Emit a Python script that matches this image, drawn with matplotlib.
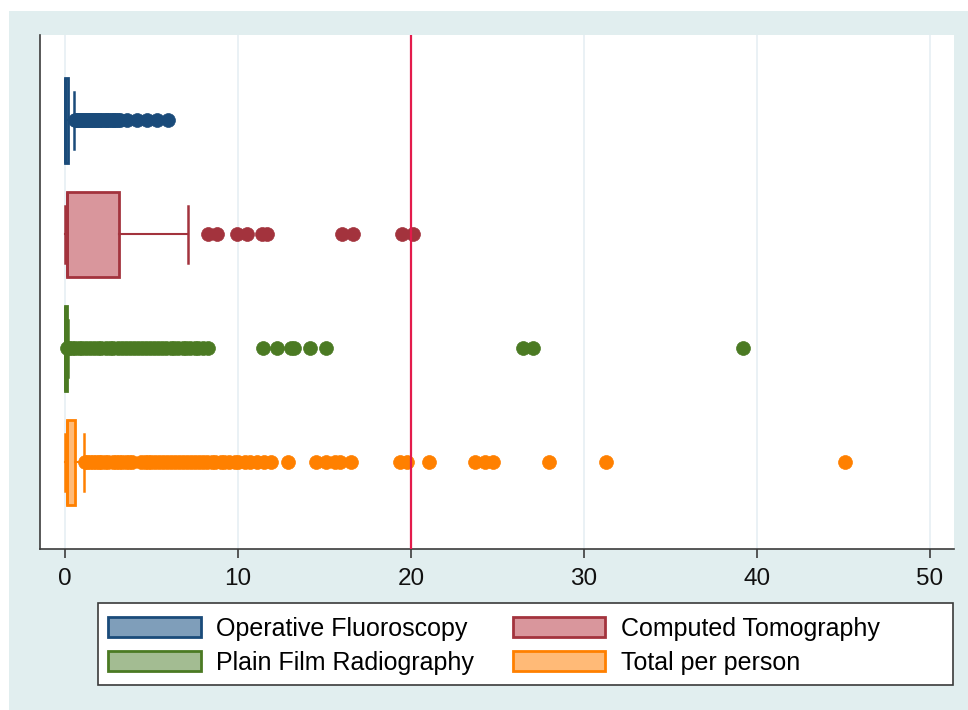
import matplotlib.pyplot as plt
from matplotlib.patches import Patch, Rectangle

plt.rcParams['font.family'] = ['Liberation Sans', 'DejaVu Sans']

# groups, top to bottom
groups = ['Operative Fluoroscopy', 'Computed Tomography',
          'Plain Film Radiography', 'Total per person']

# box summaries
q1 = [0.0, 0.1, 0.0, 0.1]
med = [0.0, 0.1, 0.0, 0.1]
q3 = [0.18, 3.1, 0.1, 0.55]
whis_lo = [0.0, 0.0, 0.0, 0.0]
whis_hi = [0.5, 7.1, 0.15, 1.1]

# outside values (dense runs estimated along the blob)
fliers_fluoro = [0.55, 0.62, 0.7, 0.78, 0.85, 0.93, 1.0, 1.08, 1.15, 1.25,
                 1.33, 1.42, 1.5, 1.6, 1.7, 1.78, 1.87, 1.95, 2.05, 2.15,
                 2.25, 2.35, 2.45, 2.55, 2.65, 2.75, 2.85, 2.95, 3.05, 3.18,
                 3.57, 4.14, 4.72, 5.3, 5.97]
fliers_ct = [8.27, 8.77, 9.92, 10.5, 11.37, 11.66, 16.0, 16.67, 19.46, 20.1]
fliers_plain = [0.1, 0.25, 0.4, 0.6, 0.8, 1.0, 1.2, 1.45, 1.65, 1.9, 2.1,
                2.35, 2.6, 2.8, 3.05, 3.3, 3.5, 3.75, 4.0, 4.2, 4.45, 4.7,
                4.9, 5.15, 5.4, 5.6, 5.85, 6.1, 6.3, 6.55, 6.8, 7.0, 7.25,
                7.5, 7.7, 7.95, 8.27, 11.46, 12.27, 13.05, 13.25, 14.16,
                15.1, 26.45, 27.05, 39.2]
fliers_total = [1.15, 1.3, 1.45, 1.6, 1.8, 1.95, 2.1, 2.3, 2.5, 2.75, 2.95,
                3.1, 3.3, 3.5, 3.7, 3.9, 4.4, 4.6, 4.8, 5.0, 5.2, 5.45, 5.65,
                5.9, 6.1, 6.35, 6.6, 6.8, 7.05, 7.3, 7.5, 7.75, 8.0, 8.2,
                8.5, 8.7, 9.0, 9.2, 9.5, 9.8, 10.0, 10.4, 10.7, 11.1, 11.5,
                11.9, 12.9, 14.5, 15.1, 15.6, 15.9, 16.55, 19.36, 19.75,
                21.04, 23.7, 24.3, 24.75, 28.0, 31.3, 45.1]
fliers = [fliers_fluoro, fliers_ct, fliers_plain, fliers_total]

ref_value = 20
xticks = [0, 10, 20, 30, 40, 50]

line_colors = ['#1A4B7A', '#A3333D', '#4B7A23', '#FF8000']
fill_colors = ['#7F9EBA', '#D9969C', '#A3BC92', '#FFBA77']

fig = plt.figure(figsize=(9.68, 7.10), dpi=100)
fig.patch.set_facecolor('white')
fig.patches.append(Rectangle((9 / 968, 0), 1 - 9 / 968, 699 / 710,
                             transform=fig.transFigure, facecolor='#E1EEEF',
                             edgecolor='none', zorder=-2))

ax = fig.add_axes([40 / 968, 161 / 710, 914 / 968, 514 / 710])
ax.set_facecolor('white')
ax.set_zorder(2)

for i in range(len(groups)):
    st = dict(med=med[i], q1=q1[i], q3=q3[i], whislo=whis_lo[i],
              whishi=whis_hi[i], fliers=fliers[i])
    c = line_colors[i]
    ax.bxp([st], positions=[i + 1], widths=0.745, capwidths=0.5,
           orientation='horizontal', patch_artist=True, manage_ticks=False,
           boxprops=dict(facecolor=fill_colors[i], edgecolor=c, linewidth=2),
           medianprops=dict(color=c, linewidth=2),
           whiskerprops=dict(color=c, linewidth=1.5),
           capprops=dict(color=c, linewidth=1.8),
           flierprops=dict(marker='o', markerfacecolor=c, markeredgecolor=c,
                           markersize=10, markeredgewidth=0.5))

ax.axvline(ref_value, color='#E31B4B', linewidth=1.6, zorder=5)

ax.set_xlim(-1.445, 51.39)
ax.set_ylim(4.76, 0.25)
ax.set_yticks([])
ax.set_xticks(xticks)
ax.grid(axis='x', color='#E6EFF3', linewidth=1.2)
ax.set_axisbelow(True)
for s in ['top', 'right']:
    ax.spines[s].set_visible(False)
for s in ['left', 'bottom']:
    ax.spines[s].set_color('#3C3C3C')
    ax.spines[s].set_linewidth(1.2)
ax.tick_params(axis='x', length=6.5, width=1.2, color='#3C3C3C',
               labelsize=17.5, pad=7, labelcolor='#111111')

# legend frame and entries
fig.patches.append(Rectangle((98 / 968, 25 / 710), 855 / 968, 82 / 710,
                             transform=fig.transFigure, facecolor='white',
                             edgecolor='#3A3A3A', linewidth=1.2, zorder=-1))
handles = [Patch(facecolor=fill_colors[i], edgecolor=line_colors[i],
                 linewidth=2, label=groups[i]) for i in [0, 2, 1, 3]]
leg = fig.legend(handles=handles, ncol=2, loc='upper left',
                 bbox_to_anchor=(108 / 968, 93 / 710), frameon=False,
                 fontsize=18, handlelength=3.7, handleheight=0.86,
                 handletextpad=0.62, columnspacing=1.55, labelspacing=0.4,
                 borderpad=0, borderaxespad=0)
leg.set_zorder(3)

fig.savefig('out.png', dpi=100)
